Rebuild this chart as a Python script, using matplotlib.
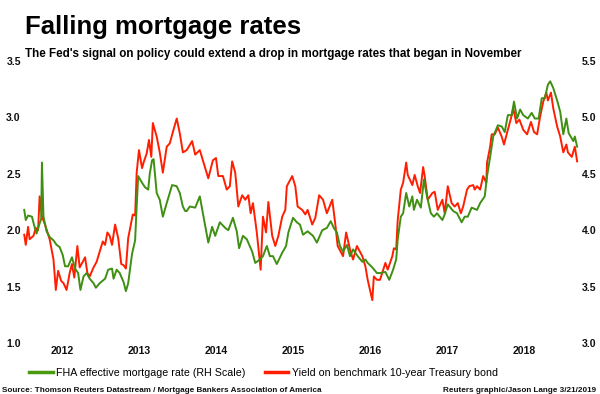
import matplotlib
matplotlib.use("Agg")
import matplotlib.pyplot as plt
from matplotlib.ticker import FixedLocator, FormatStrFormatter

plt.rcParams['font.family'] = ['Liberation Sans', 'DejaVu Sans']

# 10-year Treasury yield (left scale), dates as decimal years
tsy_dates = [2012.01, 2012.03, 2012.06, 2012.08, 2012.13, 2012.16, 2012.19, 2012.21, 2012.24, 2012.28,
             2012.34, 2012.39, 2012.42, 2012.45, 2012.49, 2012.52, 2012.56, 2012.60, 2012.63, 2012.66,
             2012.70, 2012.73, 2012.77, 2012.80, 2012.83, 2012.86, 2012.91, 2012.95, 2012.99, 2013.03,
             2013.06, 2013.09, 2013.12, 2013.15, 2013.19, 2013.23, 2013.27, 2013.30, 2013.33, 2013.36,
             2013.42, 2013.45, 2013.47, 2013.50, 2013.54, 2013.56, 2013.60, 2013.63, 2013.66, 2013.68,
             2013.73, 2013.77, 2013.81, 2013.86, 2013.90, 2013.94, 2013.99, 2014.03, 2014.07, 2014.12,
             2014.19, 2014.23, 2014.29, 2014.33, 2014.40, 2014.46, 2014.50, 2014.53, 2014.59, 2014.64,
             2014.68, 2014.71, 2014.75, 2014.79, 2014.84, 2014.88, 2014.92, 2014.95, 2014.98, 2015.03,
             2015.08, 2015.11, 2015.15, 2015.18, 2015.23, 2015.27, 2015.31, 2015.36, 2015.40, 2015.42,
             2015.49, 2015.53, 2015.56, 2015.62, 2015.66, 2015.69, 2015.75, 2015.79, 2015.84, 2015.89,
             2015.94, 2016.01, 2016.05, 2016.08, 2016.15, 2016.19, 2016.24, 2016.28, 2016.33, 2016.40,
             2016.44, 2016.47, 2016.53, 2016.55, 2016.59, 2016.63, 2016.70, 2016.73, 2016.79, 2016.81,
             2016.84, 2016.86, 2016.90, 2016.93, 2016.97, 2016.99, 2017.05, 2017.08, 2017.12, 2017.15,
             2017.19, 2017.21, 2017.25, 2017.31, 2017.34, 2017.38, 2017.44, 2017.47, 2017.51, 2017.56,
             2017.60, 2017.64, 2017.68, 2017.71, 2017.76, 2017.79, 2017.84, 2017.86, 2017.89, 2017.93,
             2017.97, 2018.01, 2018.02, 2018.06, 2018.08, 2018.12, 2018.16, 2018.21, 2018.24, 2018.29,
             2018.33, 2018.36, 2018.40, 2018.44, 2018.49, 2018.54, 2018.59, 2018.63, 2018.67, 2018.71,
             2018.75, 2018.79, 2018.81, 2018.85, 2018.88, 2018.93, 2018.97, 2019.01, 2019.05, 2019.07,
             2019.12, 2019.16, 2019.19]
tsy_yield = [1.96, 1.87, 2.03, 1.92, 1.95, 2.02, 2.00, 2.30, 2.12, 2.05,
             1.92, 1.74, 1.47, 1.64, 1.55, 1.53, 1.47, 1.62, 1.70, 1.58,
             1.86, 1.67, 1.72, 1.76, 1.62, 1.59, 1.67, 1.72, 1.81, 1.90,
             1.87, 1.98, 1.95, 1.87, 2.05, 1.93, 1.70, 1.69, 1.66, 1.93,
             2.14, 2.13, 2.51, 2.71, 2.55, 2.60, 2.68, 2.80, 2.65, 2.95,
             2.83, 2.69, 2.51, 2.74, 2.77, 2.87, 2.99, 2.86, 2.69, 2.71,
             2.79, 2.67, 2.71, 2.62, 2.46, 2.62, 2.64, 2.48, 2.48, 2.36,
             2.39, 2.61, 2.51, 2.21, 2.31, 2.27, 2.31, 2.15, 2.24, 1.98,
             1.65, 2.12, 1.98, 2.25, 1.95, 1.86, 1.95, 2.12, 2.18, 2.39,
             2.48, 2.39, 2.21, 2.18, 2.14, 2.18, 2.05, 2.11, 2.31, 2.27,
             2.15, 2.27, 2.05, 1.86, 1.77, 1.98, 1.83, 1.74, 1.86, 1.77,
             1.68, 1.56, 1.38, 1.59, 1.56, 1.56, 1.71, 1.65, 1.77, 1.84,
             1.83, 2.09, 2.36, 2.42, 2.60, 2.49, 2.40, 2.49, 2.39, 2.33,
             2.56, 2.48, 2.27, 2.33, 2.34, 2.18, 2.27, 2.15, 2.39, 2.24,
             2.21, 2.24, 2.15, 2.21, 2.36, 2.39, 2.40, 2.36, 2.39, 2.36,
             2.48, 2.42, 2.60, 2.74, 2.85, 2.85, 2.91, 2.83, 2.76, 2.89,
             2.99, 3.08, 2.95, 2.98, 2.89, 2.85, 2.96, 2.87, 2.85, 3.01,
             3.14, 3.22, 3.15, 3.22, 3.08, 2.92, 2.83, 2.69, 2.76, 2.69,
             2.65, 2.74, 2.61]

# FHA effective mortgage rate (right scale)
fha_dates = [2012.01, 2012.03, 2012.06, 2012.11, 2012.14, 2012.17, 2012.20, 2012.23, 2012.24, 2012.26,
             2012.30, 2012.34, 2012.39, 2012.43, 2012.47, 2012.51, 2012.54, 2012.58, 2012.63, 2012.67,
             2012.71, 2012.74, 2012.78, 2012.82, 2012.86, 2012.91, 2012.94, 2012.99, 2013.06, 2013.10,
             2013.15, 2013.17, 2013.21, 2013.25, 2013.30, 2013.33, 2013.36, 2013.41, 2013.45, 2013.47,
             2013.49, 2013.54, 2013.58, 2013.62, 2013.64, 2013.67, 2013.69, 2013.73, 2013.77, 2013.81,
             2013.86, 2013.93, 2013.99, 2014.03, 2014.07, 2014.10, 2014.12, 2014.16, 2014.23, 2014.29,
             2014.33, 2014.40, 2014.45, 2014.49, 2014.55, 2014.62, 2014.66, 2014.72, 2014.77, 2014.80,
             2014.85, 2014.90, 2014.97, 2015.01, 2015.07, 2015.11, 2015.16, 2015.20, 2015.24, 2015.29,
             2015.36, 2015.41, 2015.44, 2015.50, 2015.55, 2015.59, 2015.63, 2015.69, 2015.76, 2015.81,
             2015.88, 2015.94, 2015.99, 2016.03, 2016.07, 2016.11, 2016.15, 2016.20, 2016.24, 2016.28,
             2016.34, 2016.40, 2016.44, 2016.47, 2016.53, 2016.59, 2016.63, 2016.70, 2016.75, 2016.80,
             2016.84, 2016.86, 2016.90, 2016.93, 2016.97, 2017.01, 2017.05, 2017.07, 2017.11, 2017.16,
             2017.20, 2017.24, 2017.29, 2017.33, 2017.37, 2017.44, 2017.47, 2017.51, 2017.58, 2017.63,
             2017.69, 2017.73, 2017.77, 2017.82, 2017.89, 2017.93, 2017.99, 2018.02, 2018.06, 2018.10,
             2018.16, 2018.21, 2018.25, 2018.29, 2018.34, 2018.37, 2018.41, 2018.45, 2018.49, 2018.55,
             2018.60, 2018.64, 2018.69, 2018.73, 2018.77, 2018.81, 2018.84, 2018.88, 2018.93, 2018.97,
             2019.01, 2019.05, 2019.08, 2019.14, 2019.16, 2019.19]
fha_rate = [4.18, 4.09, 4.13, 4.12, 4.04, 3.97, 4.04, 4.10, 4.60, 4.12,
            3.99, 3.94, 3.91, 3.87, 3.85, 3.78, 3.68, 3.68, 3.76, 3.66,
            3.62, 3.47, 3.59, 3.62, 3.57, 3.53, 3.49, 3.53, 3.57, 3.65,
            3.66, 3.57, 3.65, 3.62, 3.54, 3.46, 3.53, 3.79, 3.91, 4.21,
            4.48, 4.42, 4.38, 4.36, 4.50, 4.62, 4.63, 4.33, 4.27, 4.12,
            4.24, 4.40, 4.39, 4.33, 4.21, 4.17, 4.17, 4.21, 4.20, 4.30,
            4.15, 3.89, 4.03, 3.95, 4.07, 4.02, 4.00, 4.11, 3.99, 3.84,
            3.95, 3.92, 3.81, 3.71, 3.74, 3.77, 3.86, 3.77, 3.77, 3.70,
            3.80, 3.86, 3.98, 4.11, 4.07, 4.05, 3.96, 3.99, 3.95, 3.89,
            4.00, 4.02, 4.08, 4.02, 3.98, 3.86, 3.81, 3.87, 3.77, 3.83,
            3.77, 3.72, 3.74, 3.71, 3.67, 3.62, 3.62, 3.63, 3.56, 3.65,
            3.74, 3.92, 4.12, 4.15, 4.33, 4.21, 4.30, 4.18, 4.27, 4.20,
            4.45, 4.30, 4.15, 4.12, 4.15, 4.09, 4.14, 4.23, 4.17, 4.15,
            4.07, 4.12, 4.12, 4.20, 4.18, 4.24, 4.30, 4.48, 4.65, 4.83,
            4.93, 4.92, 4.87, 5.02, 5.02, 5.14, 4.99, 5.07, 5.02, 4.99,
            5.04, 4.99, 4.99, 5.17, 5.17, 5.29, 5.32, 5.26, 5.15, 5.05,
            4.85, 4.99, 4.86, 4.79, 4.83, 4.74]

years = [2012, 2013, 2014, 2015, 2016, 2017, 2018]
left_ticks = [1.0, 1.5, 2.0, 2.5, 3.0, 3.5]
right_ticks = [3.0, 3.5, 4.0, 4.5, 5.0, 5.5]

GREEN = '#3f8f12'
RED = '#ff1e00'

fig = plt.figure(figsize=(6, 3.94), dpi=100)
ax = fig.add_axes([23 / 600, 1 - 343 / 394, 557 / 600, 282 / 394])
ax2 = ax.twinx()

ax.plot(tsy_dates, tsy_yield, color=RED, lw=1.4, zorder=2)
ax2.plot(fha_dates, fha_rate, color=GREEN, lw=1.4, zorder=3)

ax.set_xlim(2011.994, 2019.227)
ax.set_ylim(1.0, 3.5)
ax2.set_ylim(3.0, 5.5)

ax.yaxis.set_major_locator(FixedLocator(left_ticks))
ax2.yaxis.set_major_locator(FixedLocator(right_ticks))
ax.yaxis.set_major_formatter(FormatStrFormatter('%.1f'))
ax2.yaxis.set_major_formatter(FormatStrFormatter('%.1f'))

ax.set_xticks([y + 0.5 for y in years])
ax.set_xticklabels([str(y) for y in years], fontweight='bold')

for a in (ax, ax2):
    for s in a.spines.values():
        s.set_visible(False)
    a.tick_params(length=0, labelsize=7.6, colors='#111111')
ax.tick_params(axis='y', pad=1.5)
ax2.tick_params(axis='y', pad=1.5)
ax.tick_params(axis='x', pad=2.5)
for lbl in ax.get_yticklabels() + ax2.get_yticklabels():
    lbl.set_fontweight('bold')

# title and notes
fig.text(25 / 600, 1 - 34 / 394, 'Falling mortgage rates', fontsize=18.5,
         fontweight='bold', va='baseline', ha='left')
fig.text(25 / 600, 1 - 57 / 394,
         "The Fed's signal on policy could extend a drop in mortgage rates that began in November",
         fontsize=8.35, fontweight='bold', va='baseline', ha='left')
fig.text(2 / 600, 1 - 392 / 394,
         'Source: Thomson Reuters Datastream / Mortgage Bankers Association of America',
         fontsize=5.85, fontweight='bold', va='baseline', ha='left', color='#111111')
fig.text(596 / 600, 1 - 392 / 394, 'Reuters graphic/Jason Lange 3/21/2019',
         fontsize=5.9, fontweight='bold', va='baseline', ha='right', color='#111111')

# legend
h1, = ax.plot([], [], color='#4a9a10', lw=2.5)
h2, = ax.plot([], [], color=RED, lw=2.5)
fig.legend([h1, h2], ['FHA effective mortgage rate (RH Scale)',
                      'Yield on benchmark 10-year Treasury bond'],
           loc='center left', bbox_to_anchor=(29 / 600, 1 - 373 / 394), ncol=2,
           frameon=False, fontsize=7.7, handlelength=2.2, handletextpad=0.35,
           columnspacing=1.8, borderpad=0, borderaxespad=0)

fig.savefig('out.png', dpi=100)
